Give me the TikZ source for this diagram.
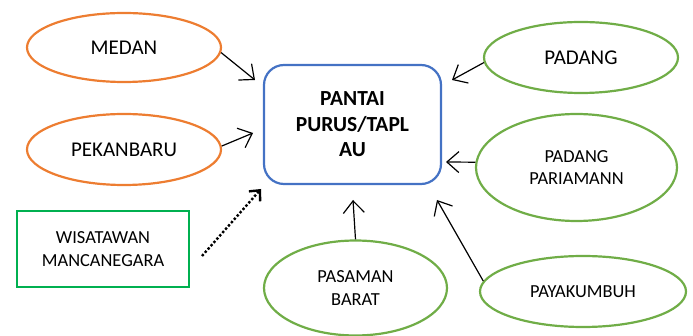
\documentclass[tikz,border=0pt]{standalone}
\usepackage{fontspec}
\setmainfont{Carlito}
\usetikzlibrary{shapes.geometric,arrows.meta}

\definecolor{kotaOrange}{HTML}{ED7D31}
\definecolor{kotaGreen}{HTML}{70AD47}
\definecolor{boxGreen}{HTML}{00B050}
\definecolor{boxBlue}{HTML}{4472C4}

\begin{document}
\begin{tikzpicture}[x=1pt,y=-1pt]
		\tikzstyle{kota}=[ellipse,draw,line width=2.2pt,inner sep=0,align=center,font=\fontsize{21}{25}\selectfont]
		\tikzstyle{kotakecil}=[kota,font=\fontsize{18.4}{22.5}\selectfont]
		\tikzstyle{arr}=[line width=1.2pt,-{Straight Barb[length=12pt,width=21pt]}]
		\useasboundingbox (0,0) rectangle (693,336);

		\node[draw=boxBlue,line width=2.2pt,rounded corners=20pt,minimum width=177pt,minimum height=119pt,align=center,
			font=\bfseries\fontsize{21.5}{25.5}\selectfont] (pantai) at (352.5,124.5) {PANTAI\\PURUS/TAPL\\AU};

		\node[kota,draw=kotaOrange,minimum width=194pt,minimum height=69pt] (medan) at (124,47.5) {MEDAN};
		\node[kota,draw=kotaOrange,minimum width=194pt,minimum height=71pt] (pekanbaru) at (124,149.5) {PEKANBARU};
		\node[draw=boxGreen,line width=2.2pt,minimum width=172pt,minimum height=76pt,align=center,
			font=\fontsize{18.4}{22.5}\selectfont] (wisatawan) at (103,249) {WISATAWAN\\MANCANEGARA};

		\node[kota,draw=kotaGreen,minimum width=194pt,minimum height=71pt] (padang) at (581,57.5) {PADANG};
		\node[kotakecil,draw=kotaGreen,minimum width=201pt,minimum height=107pt] (pariaman) at (576.5,167.5) {PADANG\\PARIAMANN};
		\node[kotakecil,draw=kotaGreen,minimum width=206pt,minimum height=71pt] (payakumbuh) at (583,291.5) {PAYAKUMBUH};
		\node[kotakecil,draw=kotaGreen,minimum width=183pt,minimum height=95pt] (pasaman) at (355.5,288) {PASAMAN\\BARAT};

		% ujung panah, sedikit lepas dari kotak
		\coordinate (tipMedan) at (255,80);
		\coordinate (tipPekanbaru) at (253,133);
		\coordinate (tipWisatawan) at (261,189);
		\coordinate (tipPadang) at (452,80);
		\coordinate (tipPariaman) at (446,162);
		\coordinate (tipPasaman) at (353,200);
		\coordinate (tipPayakumbuh) at (437,200);
		\coordinate (startWisatawan) at (202,256);

		\foreach \src/\tip in {medan.-3/tipMedan,pekanbaru.2/tipPekanbaru,padang.183/tipPadang,
			pariaman.177/tipPariaman,pasaman.north/tipPasaman,payakumbuh.174/tipPayakumbuh}
			\draw[arr] (\src) -- (\tip);
		\draw[line width=2.4pt,dotted,-{Straight Barb[length=8pt,width=15pt,line width=2.4pt]}] (startWisatawan) -- (tipWisatawan);
	\end{tikzpicture}
\end{document}
